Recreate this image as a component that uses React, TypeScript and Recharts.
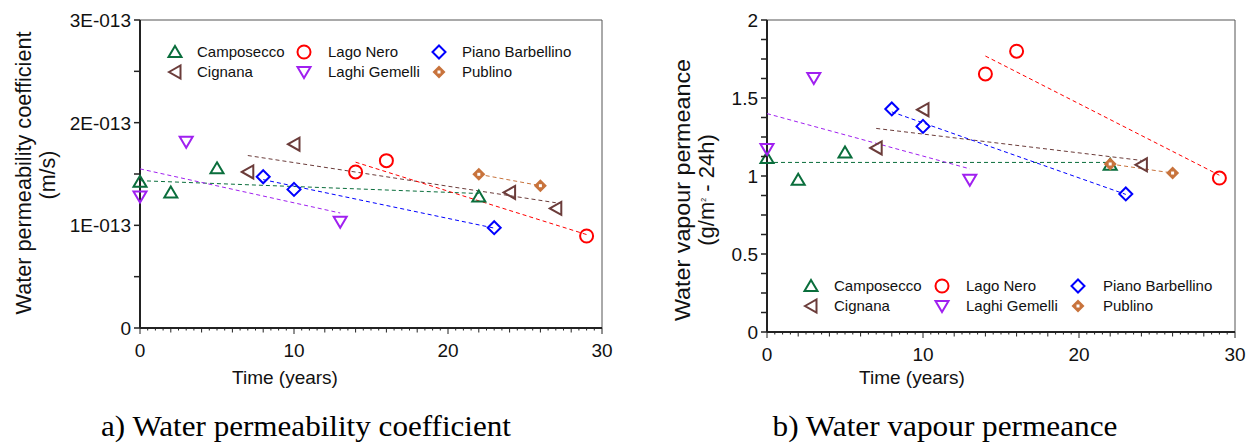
import React from "react";
import { ScatterChart, Scatter, XAxis, YAxis, ReferenceLine } from "recharts";

const camposeccoYears = [0, 2, 5, 22];
const camposeccoPerm = [1.425, 1.32, 1.555, 1.28];
const camposeccoVapour = [1.115, 0.976, 1.151, 1.072];

const cignanaPermYears = [7, 10, 24, 27];
const cignanaPerm = [1.52, 1.79, 1.32, 1.165];
const cignanaVapourYears = [7, 10, 24];
const cignanaVapour = [1.18, 1.425, 1.072];

const lagoNeroYears = [14, 16, 29];
const lagoNeroPerm = [1.52, 1.63, 0.896];
const lagoNeroVapour = [1.654, 1.8, 0.987];

const laghiGemelliYears = [0, 3, 13];
const laghiGemelliPerm = [1.28, 1.815, 1.035];
const laghiGemelliVapour = [1.173, 1.628, 0.976];

const barbellinoYears = [8, 10, 23];
const barbellinoPerm = [1.473, 1.35, 0.977];
const barbellinoVapour = [1.43, 1.318, 0.885];

const publinoYears = [22, 26];
const publinoPerm = [1.497, 1.386];
const publinoVapour = [1.077, 1.019];

// dashed trend lines: value at first and last year of each site
const camposeccoPermTrend = [1.435, 1.31];
const cignanaPermTrend = [1.68, 1.22];
const lagoNeroPermTrend = [1.615, 0.91];
const laghiGemelliPermTrend = [1.55, 1.12];
const barbellinoPermTrend = [1.445, 0.973];
const publinoPermTrend = [1.497, 1.386];

const camposeccoVapourTrend = [1.087, 1.087];
const cignanaVapourTrend = [1.305, 1.1];
const lagoNeroVapourTrend = [1.769, 1.005];
const laghiGemelliVapourTrend = [1.4, 1.046];
const barbellinoVapourTrend = [1.411, 0.882];
const publinoVapourTrend = [1.077, 1.019];

const siteNames = ["Camposecco", "Cignana", "Lago Nero", "Laghi Gemelli", "Piano Barbellino", "Publino"];

// axis ticks (permeability in units of 1E-013 m/s)
const permTicks = [0, 0.5, 1, 1.5, 2, 2.5, 3];
const permTickLabels = ["0", "", "1E-013", "", "2E-013", "", "3E-013"];
const vapourTicks = [0, 0.125, 0.25, 0.375, 0.5, 0.625, 0.75, 0.875, 1, 1.125, 1.25, 1.375, 1.5, 1.625, 1.75, 1.875, 2];
const vapourTickLabels = ["0", "", "", "", "0.5", "", "", "", "1", "", "", "", "1.5", "", "", "", "2"];
const yearMajor = [0, 10, 20, 30];
const yearLabels = ["0", "10", "20", "30"];
const yearTicks = Array.from({ length: 61 }, (_, i) => i * 0.5);

const COLORS: Record<string, string> = {
  Camposecco: "#0a6e3c",
  Cignana: "#6b3c3a",
  "Lago Nero": "#ff0000",
  "Laghi Gemelli": "#a020f0",
  "Piano Barbellino": "#0000ff",
  Publino: "#c8733c",
};
const KINDS: Record<string, string> = {
  Camposecco: "up",
  Cignana: "left",
  "Lago Nero": "circle",
  "Laghi Gemelli": "down",
  "Piano Barbellino": "diamond",
  Publino: "dot",
};

const AXIS = "#222";
const SERIF = "'Liberation Serif', 'Times New Roman', serif";

function Marker({ kind, cx, cy, color }: { kind: string; cx: number; cy: number; color: string }) {
  const sw = 2;
  switch (kind) {
    case "up":
      return <polygon points={`${cx},${cy - 6} ${cx + 6.5},${cy + 5} ${cx - 6.5},${cy + 5}`} fill="none" stroke={color} strokeWidth={sw} />;
    case "left":
      return <polygon points={`${cx - 6},${cy} ${cx + 5.5},${cy - 6.5} ${cx + 5.5},${cy + 6.5}`} fill="none" stroke={color} strokeWidth={sw} />;
    case "down":
      return <polygon points={`${cx - 6.5},${cy - 5} ${cx + 6.5},${cy - 5} ${cx},${cy + 6}`} fill="none" stroke={color} strokeWidth={sw} />;
    case "circle":
      return <circle cx={cx} cy={cy} r={6.5} fill="none" stroke={color} strokeWidth={sw} />;
    case "diamond":
      return <polygon points={`${cx},${cy - 6.5} ${cx + 6.5},${cy} ${cx},${cy + 6.5} ${cx - 6.5},${cy}`} fill="none" stroke={color} strokeWidth={sw} />;
    default:
      return (
        <g>
          <polygon points={`${cx},${cy - 6.5} ${cx + 6.5},${cy} ${cx},${cy + 6.5} ${cx - 6.5},${cy}`} fill={color} />
          <rect x={cx - 1.5} y={cy - 1.5} width={3} height={3} fill="#fff" />
        </g>
      );
  }
}

const pts = (years: number[], vals: number[]) => years.map((t, i) => ({ t, v: vals[i] }));
const trendPts = (years: number[], ends: number[]) => [
  { t: years[0], v: ends[0] },
  { t: years[years.length - 1], v: ends[1] },
];

function makeYTick(ticks: number[], labels: string[]) {
  return (props: any) => {
    const { x, y, payload } = props;
    const label = labels[ticks.indexOf(payload.value)] || "";
    return (
      <g>
        <line x1={x - 6} x2={x} y1={y} y2={y} stroke={AXIS} strokeWidth={1.5} />
        {label && (
          <text x={x - 9} y={y} dy="0.36em" textAnchor="end" fontSize={19} fill="#111">
            {label}
          </text>
        )}
      </g>
    );
  };
}

function XTick(props: any) {
  const { x, y, payload } = props;
  const v = payload.value;
  const mi = yearMajor.indexOf(v);
  const len = mi >= 0 ? 6 : v % 2 === 0 ? 4.5 : 2.5;
  return (
    <g>
      <line x1={x} x2={x} y1={y} y2={y + len} stroke={AXIS} strokeWidth={1} />
      {mi >= 0 && (
        <text x={x} y={y + 29} textAnchor="middle" fontSize={19} fill="#111">
          {yearLabels[mi]}
        </text>
      )}
    </g>
  );
}

type Series = { name: string; years: number[]; vals: number[]; trend: number[] };

const permSeries: Series[] = [
  { name: "Camposecco", years: camposeccoYears, vals: camposeccoPerm, trend: camposeccoPermTrend },
  { name: "Cignana", years: cignanaPermYears, vals: cignanaPerm, trend: cignanaPermTrend },
  { name: "Lago Nero", years: lagoNeroYears, vals: lagoNeroPerm, trend: lagoNeroPermTrend },
  { name: "Laghi Gemelli", years: laghiGemelliYears, vals: laghiGemelliPerm, trend: laghiGemelliPermTrend },
  { name: "Piano Barbellino", years: barbellinoYears, vals: barbellinoPerm, trend: barbellinoPermTrend },
  { name: "Publino", years: publinoYears, vals: publinoPerm, trend: publinoPermTrend },
];

const vapourSeries: Series[] = [
  { name: "Camposecco", years: camposeccoYears, vals: camposeccoVapour, trend: camposeccoVapourTrend },
  { name: "Cignana", years: cignanaVapourYears, vals: cignanaVapour, trend: cignanaVapourTrend },
  { name: "Lago Nero", years: lagoNeroYears, vals: lagoNeroVapour, trend: lagoNeroVapourTrend },
  { name: "Laghi Gemelli", years: laghiGemelliYears, vals: laghiGemelliVapour, trend: laghiGemelliVapourTrend },
  { name: "Piano Barbellino", years: barbellinoYears, vals: barbellinoVapour, trend: barbellinoVapourTrend },
  { name: "Publino", years: publinoYears, vals: publinoVapour, trend: publinoVapourTrend },
];

function Panel(p: {
  series: Series[];
  width: number;
  height: number;
  yWidth: number;
  right: number;
  yMax: number;
  ticks: number[];
  labels: string[];
}) {
  const YTick = makeYTick(p.ticks, p.labels);
  return (
    <ScatterChart width={p.width} height={p.height} margin={{ top: 20, right: p.right, bottom: 0, left: 0 }}>
      <XAxis
        type="number"
        dataKey="t"
        domain={[0, 30]}
        ticks={yearTicks}
        interval={0}
        tickSize={0}
        tickMargin={0}
        tickLine={false}
        tick={XTick}
        height={52}
        axisLine={{ stroke: AXIS, strokeWidth: 2 }}
      />
      <YAxis
        type="number"
        dataKey="v"
        domain={[0, p.yMax]}
        ticks={p.ticks}
        interval={0}
        tickSize={0}
        tickMargin={0}
        tickLine={false}
        tick={YTick}
        width={p.yWidth}
        axisLine={{ stroke: AXIS, strokeWidth: 2 }}
      />
      <ReferenceLine y={p.yMax} stroke="#555" strokeWidth={1} />
      <ReferenceLine x={30} stroke="#555" strokeWidth={1} />
      {p.series.map((s) => (
        <Scatter
          key={s.name + "-trend"}
          data={trendPts(s.years, s.trend)}
          line={{ stroke: COLORS[s.name], strokeWidth: 1, strokeDasharray: "4 3" }}
          shape={() => <g />}
          isAnimationActive={false}
        />
      ))}
      {p.series.map((s) => (
        <Scatter
          key={s.name}
          data={pts(s.years, s.vals)}
          shape={(sp: any) => <Marker kind={KINDS[s.name]} cx={sp.cx} cy={sp.cy} color={COLORS[s.name]} />}
          isAnimationActive={false}
        />
      ))}
    </ScatterChart>
  );
}

function Legend({ markerX, textX, rowY }: { markerX: number[]; textX: number[]; rowY: number[] }) {
  return (
    <g>
      {siteNames.map((name, i) => {
        const col = Math.floor(i / 2);
        const row = i % 2;
        return (
          <g key={name}>
            <Marker kind={KINDS[name]} cx={markerX[col]} cy={rowY[row]} color={COLORS[name]} />
            <text x={textX[col]} y={rowY[row]} dy="0.36em" fontSize={15} fill="#111">
              {name}
            </text>
          </g>
        );
      })}
    </g>
  );
}

export default function App() {
  return (
    <div
      style={{
        position: "absolute",
        left: 0,
        top: 0,
        width: 1247,
        height: 444,
        background: "#fff",
        fontFamily: "'Liberation Sans', Arial, sans-serif",
        overflow: "hidden",
      }}
    >
      <div style={{ position: "absolute", left: 0, top: 0 }}>
        <Panel series={permSeries} width={620} height={380} yWidth={140} right={18} yMax={3} ticks={permTicks} labels={permTickLabels} />
      </div>
      <div style={{ position: "absolute", left: 640, top: 0 }}>
        <Panel series={vapourSeries} width={607} height={384} yWidth={127} right={12} yMax={2} ticks={vapourTicks} labels={vapourTickLabels} />
      </div>
      <svg width={1247} height={444} style={{ position: "absolute", left: 0, top: 0, pointerEvents: "none" }}>
        <Legend markerX={[175, 304, 439]} textX={[197, 328, 462]} rowY={[52, 72]} />
        <Legend markerX={[811, 942, 1078]} textX={[834, 966, 1103]} rowY={[286, 306]} />

        <text x={285} y={384} textAnchor="middle" fontSize={19} fill="#111">Time (years)</text>
        <text x={912} y={384} textAnchor="middle" fontSize={19} fill="#111">Time (years)</text>

        <text x={23} y={173} transform="rotate(-90 23 173)" textAnchor="middle" dy="0.36em" fontSize={21.5} textLength={283} lengthAdjust="spacingAndGlyphs" fill="#111">
          Water permeability coefficient
        </text>
        <text x={47} y={175} transform="rotate(-90 47 175)" textAnchor="middle" dy="0.36em" fontSize={21.5} fill="#111">
          (m/s)
        </text>
        <text x={682} y={190} transform="rotate(-90 682 190)" textAnchor="middle" dy="0.36em" fontSize={22} textLength={262} lengthAdjust="spacingAndGlyphs" fill="#111">
          Water vapour permeance
        </text>
        <text x={706} y={190} transform="rotate(-90 706 190)" textAnchor="middle" dy="0.36em" fontSize={22} fill="#111">
          (g/m<tspan fontSize={7} dy="-8">2</tspan><tspan dy="8"> - 24h)</tspan>
        </text>

        <text x={306} y={436} textAnchor="middle" fontSize={29} textLength={410} lengthAdjust="spacingAndGlyphs" fontFamily={SERIF} fill="#000">
          a) Water permeability coefficient
        </text>
        <text x={945} y={436} textAnchor="middle" fontSize={29} textLength={345} lengthAdjust="spacingAndGlyphs" fontFamily={SERIF} fill="#000">
          b) Water vapour permeance
        </text>
      </svg>
    </div>
  );
}
